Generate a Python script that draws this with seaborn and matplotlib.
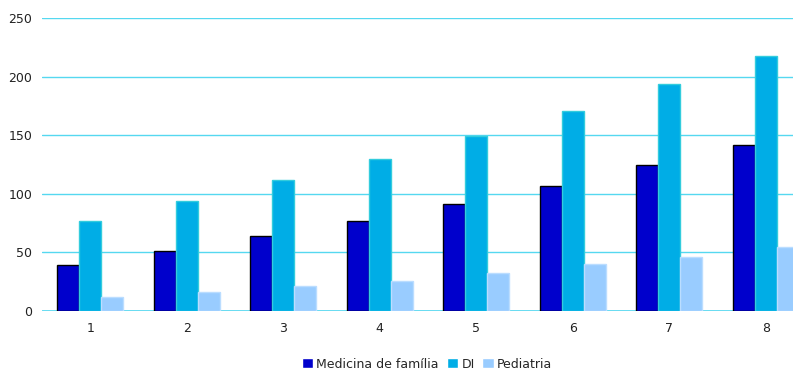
import matplotlib
matplotlib.use("Agg")
import matplotlib.pyplot as plt
import seaborn as sns
import pandas as pd

categories = ["1", "2", "3", "4", "5", "6", "7", "8"]
medicina_familia = [39, 51, 64, 77, 91, 107, 125, 142]
di = [77, 94, 112, 130, 149, 171, 194, 218]
pediatria = [12, 16, 21, 26, 32, 40, 46, 55]
series_names = ["Medicina de família", "DI", "Pediatria"]
y_ticks = [0, 50, 100, 150, 200, 250]

colors = ["#0000CC", "#00ADE6", "#99CCFF"]
edges = ["#000000", "#33CCDD", "#BBDDFF"]

df = pd.DataFrame({
    "cat": categories * 3,
    "value": medicina_familia + di + pediatria,
    "serie": [s for s in series_names for _ in categories],
})

sns.set_theme(style="white")
plt.rcParams["font.family"] = ["DejaVu Sans"]

fig = plt.figure(figsize=(7.93, 3.69), dpi=100)
ax = fig.add_axes([42 / 793, 58 / 369, 772 / 793, 293 / 369])

sns.barplot(data=df, x="cat", y="value", hue="serie", palette=colors,
            width=0.68, gap=0, saturation=1, ax=ax, legend=True)

for container, ec in zip(ax.containers, edges):
    for bar in container:
        bar.set_edgecolor(ec)
        bar.set_linewidth(1.0)

ax.set_ylim(0, 250)
ax.set_yticks(y_ticks)
ax.set_xlim(-0.5, 7.5)
ax.yaxis.grid(True, color="#55D8F0", linewidth=1.0)
ax.set_axisbelow(True)
for s in ax.spines.values():
    s.set_visible(False)
ax.axhline(0, color="#55D8F0", linewidth=1.2, zorder=0.5)
ax.tick_params(axis="both", length=0, labelsize=9, colors="#222222")
ax.tick_params(axis="y", pad=7)
ax.tick_params(axis="x", pad=8)
ax.set_xlabel("")
ax.set_ylabel("")

handles, labels = ax.get_legend_handles_labels()
ax.legend_.remove()
fig.legend(handles, labels, loc="center", bbox_to_anchor=(427 / 793, 1 - 364 / 369),
           ncol=3, frameon=False, fontsize=9, handlelength=0.9, handleheight=0.9,
           handletextpad=0.3, columnspacing=0.6)

fig.savefig("out.png", dpi=100)
